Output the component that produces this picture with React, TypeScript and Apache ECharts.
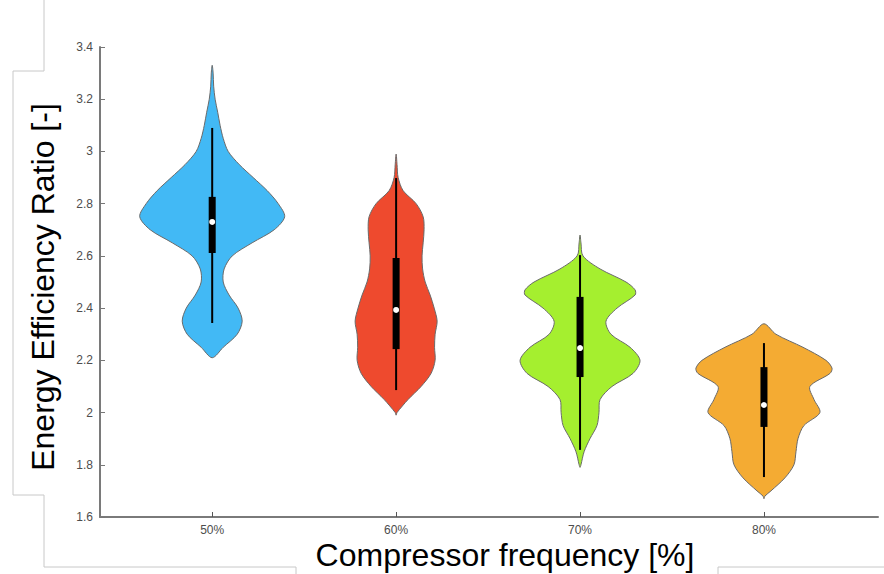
import React, { useEffect, useRef } from "react";
import * as echarts from "echarts";

const categories = ["50%", "60%", "70%", "80%"];
const positions = [1, 2, 3, 4];
const colors = ["#42b9f5", "#ee4a2e", "#a5ef2f", "#f4ab33"];

const levels50 = [3.33, 3.3, 3.25, 3.2, 3.15, 3.1, 3.05, 3.0, 2.95, 2.9, 2.85, 2.8, 2.75, 2.7, 2.65, 2.6, 2.55, 2.5, 2.45, 2.4, 2.35, 2.3, 2.25, 2.21];
const widths50 = [0, 0.005, 0.008, 0.016, 0.03, 0.043, 0.06, 0.087, 0.147, 0.223, 0.299, 0.359, 0.394, 0.337, 0.217, 0.109, 0.065, 0.06, 0.092, 0.141, 0.163, 0.136, 0.06, 0];

const levels60 = [2.99, 2.95, 2.9, 2.85, 2.8, 2.75, 2.7, 2.65, 2.6, 2.55, 2.5, 2.45, 2.4, 2.35, 2.3, 2.25, 2.2, 2.15, 2.1, 2.05, 2.0, 1.99];
const widths60 = [0, 0.005, 0.011, 0.038, 0.109, 0.147, 0.152, 0.147, 0.141, 0.144, 0.158, 0.185, 0.207, 0.223, 0.212, 0.209, 0.212, 0.19, 0.136, 0.065, 0.005, 0];

const levels70 = [2.68, 2.65, 2.6, 2.55, 2.5, 2.47, 2.45, 2.4, 2.35, 2.3, 2.25, 2.2, 2.15, 2.1, 2.05, 2.0, 1.95, 1.9, 1.85, 1.8, 1.79];
const widths70 = [0, 0.005, 0.016, 0.109, 0.25, 0.299, 0.299, 0.201, 0.141, 0.168, 0.272, 0.326, 0.288, 0.174, 0.109, 0.103, 0.092, 0.054, 0.022, 0.005, 0];

const levels80 = [2.34, 2.3, 2.25, 2.2, 2.17, 2.15, 2.1, 2.05, 2.0, 1.95, 1.9, 1.85, 1.8, 1.75, 1.7, 1.68, 1.67];
const widths80 = [0, 0.065, 0.212, 0.337, 0.37, 0.359, 0.25, 0.272, 0.304, 0.217, 0.185, 0.174, 0.163, 0.114, 0.038, 0.005, 0];

const whiskerHigh = [3.09, 2.898, 2.603, 2.266];
const q3 = [2.826, 2.592, 2.443, 2.174];
const median = [2.73, 2.393, 2.247, 2.029];
const q1 = [2.611, 2.243, 2.136, 1.945];
const whiskerLow = [2.343, 2.086, 1.857, 1.753];

const yTicksMin = 1.6;
const yTicksMax = 3.4;
const yTickStep = 0.2;

const allLevels = [levels50, levels60, levels70, levels80];
const allWidths = [widths50, widths60, widths70, widths80];

export default function App() {
  const ref = useRef<HTMLDivElement>(null);
  useEffect(() => {
    document.body.style.margin = "0";
    const chart = echarts.init(ref.current as HTMLDivElement, undefined, { renderer: "svg" });

    const makeRender = (i: number) => (params: any, api: any) => {
      const x = positions[i];
      const lv = allLevels[i];
      const wd = allWidths[i];
      const right: number[][] = [];
      const left: number[][] = [];
      for (let k = 0; k < lv.length; k++) {
        right.push(api.coord([x + wd[k], lv[k]]));
      }
      for (let k = lv.length - 2; k >= 1; k--) {
        left.push(api.coord([x - wd[k], lv[k]]));
      }
      const pts = right.concat(left);
      const top = api.coord([x, whiskerHigh[i]]);
      const bot = api.coord([x, whiskerLow[i]]);
      const b3 = api.coord([x, q3[i]]);
      const b1 = api.coord([x, q1[i]]);
      const md = api.coord([x, median[i]]);
      return {
        type: "group",
        children: [
          {
            type: "polygon",
            shape: { points: pts, smooth: 0.3 },
            style: { fill: colors[i], stroke: "#6a6a6a", lineWidth: 1 },
          },
          {
            type: "line",
            shape: { x1: top[0], y1: top[1], x2: bot[0], y2: bot[1] },
            style: { stroke: "#000", lineWidth: 2 },
          },
          {
            type: "rect",
            shape: { x: b3[0] - 3.5, y: b3[1], width: 7, height: b1[1] - b3[1] },
            style: { fill: "#000" },
          },
          {
            type: "circle",
            shape: { cx: md[0], cy: md[1], r: 3 },
            style: { fill: "#fff" },
          },
        ],
      };
    };

    const series = positions.map((p, i) => ({
      type: "custom",
      name: categories[i],
      renderItem: makeRender(i),
      data: [[p, median[i]]],
      silent: true,
    }));

    const frame = "#c8c8c8";
    chart.setOption({
      animation: false,
      grid: { left: 100, right: 6, top: 47, bottom: 57 },
      xAxis: {
        type: "value",
        min: 0.39,
        max: 4.62,
        splitLine: { show: false },
        axisLine: { show: true, onZero: false, lineStyle: { color: "#7a7a7a", width: 2 } },
        axisTick: { show: true, inside: true, length: 5, customValues: positions, lineStyle: { color: "#555" } },
        axisLabel: {
          customValues: positions,
          formatter: (v: number) => categories[Math.round(v) - 1] ?? "",
          color: "#4d4d4d",
          fontSize: 12,
          fontFamily: "Liberation Sans Narrow, Liberation Sans, sans-serif",
          margin: 7,
        },
      },
      yAxis: {
        type: "value",
        min: yTicksMin,
        max: yTicksMax,
        interval: yTickStep,
        splitLine: { show: false },
        axisLine: { show: true, lineStyle: { color: "#7a7a7a", width: 2 } },
        axisTick: { show: true, inside: true, length: 5, lineStyle: { color: "#777" } },
        axisLabel: { color: "#4d4d4d", fontSize: 12, fontFamily: "Liberation Sans, sans-serif", margin: 7 },
      },
      graphic: [
        {
          type: "text",
          x: 43,
          y: 287,
          rotation: Math.PI / 2,
          style: {
            text: "Energy Efficiency Ratio [-]",
            fontSize: 32,
            fontFamily: "Liberation Sans, Arial, sans-serif",
            fill: "#000",
            align: "center",
            verticalAlign: "middle",
          },
        },
        {
          type: "text",
          x: 505,
          y: 555,
          style: {
            text: "Compressor frequency [%]",
            fontSize: 32,
            fontFamily: "Liberation Sans, Arial, sans-serif",
            fill: "#000",
            align: "center",
            verticalAlign: "middle",
          },
        },
        {
          type: "polyline",
          shape: { points: [[44, 0], [44, 71], [13, 71], [13, 495], [44, 495], [44, 567], [296, 567], [296, 574]] },
          style: { stroke: frame, lineWidth: 1, fill: null },
          silent: true,
        },
        {
          type: "polyline",
          shape: { points: [[718, 574], [718, 567], [884, 567]] },
          style: { stroke: frame, lineWidth: 1, fill: null },
          silent: true,
        },
      ],
      series,
    });
    return () => chart.dispose();
  }, []);
  return <div ref={ref} style={{ position: "absolute", left: 0, top: 0, width: 884, height: 574 }} />;
}
